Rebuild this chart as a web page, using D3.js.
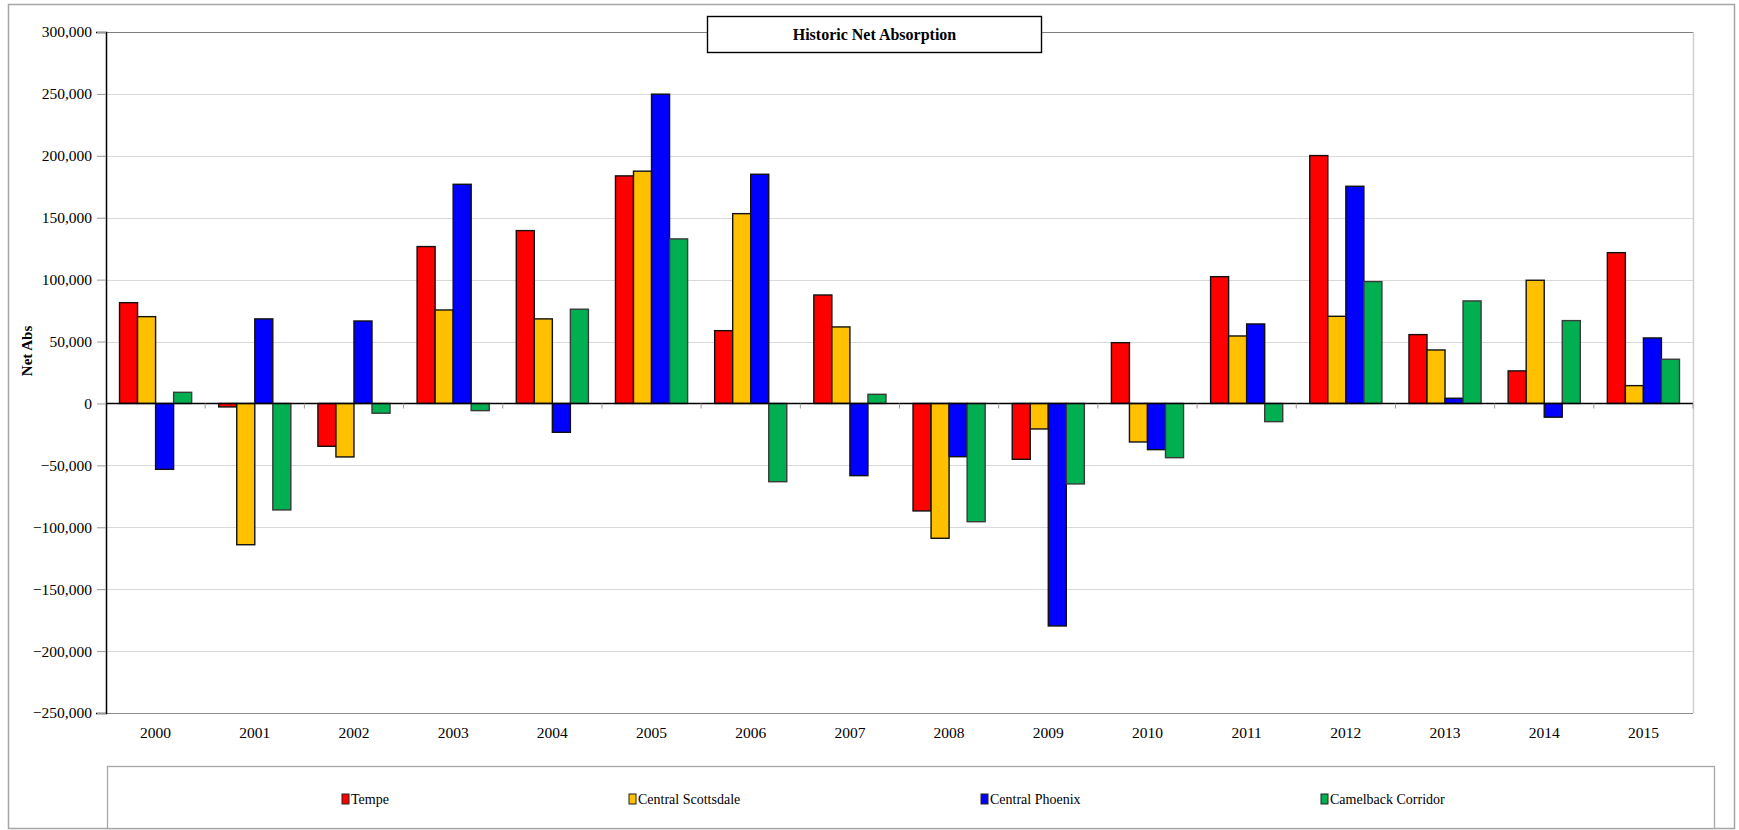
<!DOCTYPE html>
<html>
<head>
<meta charset="utf-8">
<script src="https://cdn.jsdelivr.net/npm/d3@7/dist/d3.min.js"></script>
<style>
  html, body { margin: 0; padding: 0; background: #fff; }
  svg text { font-family: "Liberation Serif", "Times New Roman", serif; fill: #000; }
</style>
</head>
<body>
<svg id="chart" width="1739" height="830"></svg>
<script>
// Yearly net absorption by submarket
const years = ["2000","2001","2002","2003","2004","2005","2006","2007","2008","2009","2010","2011","2012","2013","2014","2015"];
const seriesNames = ["Tempe", "Central Scottsdale", "Central Phoenix", "Camelback Corridor"];
const seriesColors = ["#ff0000", "#ffc000", "#0000ff", "#00b050"];

const tempe            = [81400, -2800, -34600, 126700, 139600, 183800, 58800, 87600, -86800, -45100, 49100, 102400, 200200, 55600, 26300, 121800];
const centralScottsdale= [70100, -114100, -43200, 75500, 68300, 187600, 153300, 61800, -108900, -20600, -31100, 54500, 70400, 43200, 99500, 14400];
const centralPhoenix   = [-53200, 68300, 66600, 177000, -23300, 249800, 185100, -58300, -43000, -179700, -37300, 64200, 175400, 4200, -11100, 52900];
const camelback        = [9000, -86000, -7900, -5800, 76100, 132900, -63200, 7400, -95500, -65000, -43800, -14700, 98400, 82800, 66900, 35700];

const yTicks = [300000, 250000, 200000, 150000, 100000, 50000, 0, -50000, -100000, -150000, -200000, -250000];

const allSeries = [tempe, centralScottsdale, centralPhoenix, camelback];

const svg = d3.select("#chart");
const W = 1739, H = 830;
const plot = { left: 106, right: 1693, top: 32, bottom: 713 };

// outer frame
svg.append("rect")
  .attr("x", 8.5).attr("y", 4.5).attr("width", W - 13).attr("height", H - 6)
  .attr("fill", "#fff").attr("stroke", "#a6a6a6").attr("stroke-width", 1.5);

const x = d3.scaleBand().domain(years).range([plot.left, plot.right]).paddingInner(0).paddingOuter(0);
const y = d3.scaleLinear().domain([-250000, 300000]).range([plot.bottom, plot.top]);

// inner grouping: 4 bars with a 150% gap between groups
const barW = x.bandwidth() / (4 + 1.5);
const groupOffset = (x.bandwidth() - 4 * barW) / 2;
const xs = d3.scaleBand().domain(d3.range(4)).range([groupOffset, groupOffset + 4 * barW]).padding(0);

// gridlines
svg.append("g")
  .selectAll("line")
  .data(yTicks.filter(t => t !== 300000 && t !== -250000 && t !== 0))
  .join("line")
  .attr("x1", plot.left).attr("x2", plot.right)
  .attr("y1", d => Math.round(y(d)) + 0.5).attr("y2", d => Math.round(y(d)) + 0.5)
  .attr("stroke", "#d9d9d9").attr("stroke-width", 1.2);

// plot frame
svg.append("line").attr("x1", plot.left).attr("x2", plot.right)
  .attr("y1", plot.top + 0.5).attr("y2", plot.top + 0.5)
  .attr("stroke", "#7f7f7f").attr("stroke-width", 1.2);
svg.append("line").attr("x1", plot.left).attr("x2", plot.right)
  .attr("y1", plot.bottom + 0.5).attr("y2", plot.bottom + 0.5)
  .attr("stroke", "#8c8c8c").attr("stroke-width", 1.2);
svg.append("line").attr("x1", plot.right + 0.5).attr("x2", plot.right + 0.5)
  .attr("y1", plot.top).attr("y2", plot.bottom)
  .attr("stroke", "#cfcfcf").attr("stroke-width", 1.5);

// bars
const groups = svg.append("g").selectAll("g")
  .data(years)
  .join("g")
  .attr("transform", d => `translate(${x(d)},0)`);

groups.selectAll("rect")
  .data((d, i) => allSeries.map((s, k) => ({ k, v: s[i] })))
  .join("rect")
  .attr("x", d => xs(d.k))
  .attr("width", xs.bandwidth())
  .attr("y", d => y(Math.max(0, d.v)))
  .attr("height", d => Math.abs(y(d.v) - y(0)))
  .attr("fill", d => seriesColors[d.k])
  .attr("stroke", d => d.k === 3 ? "#3a3a3a" : "#111")
  .attr("stroke-width", 1.4);

// y axis
const yAxis = d3.axisLeft(y)
  .tickValues(yTicks)
  .tickSize(10)
  .tickPadding(4)
  .tickFormat(d3.format(","));
const gy = svg.append("g").attr("transform", `translate(${plot.left},0)`).call(yAxis);
gy.select(".domain").attr("stroke", "#000").attr("stroke-width", 1.5);
gy.selectAll(".tick line").attr("stroke", "#999").attr("x2", -9);
gy.selectAll(".tick text")
  .style("font-family", "'Liberation Serif', 'Times New Roman', serif")
  .style("font-size", "15.5px")
  .attr("fill", "#000");

// x axis at zero
const x0 = Math.round(y(0)) + 0.5;
const gx = svg.append("g").attr("transform", `translate(0,${x0})`);
gx.append("line").attr("x1", plot.left).attr("x2", plot.right)
  .attr("stroke", "#000").attr("stroke-width", 1.5);
gx.selectAll("line.tk")
  .data(years.slice(1).concat(["end"]))
  .join("line")
  .attr("class", "tk")
  .attr("x1", (d, i) => i < years.length - 1 ? x(d) : plot.right)
  .attr("x2", (d, i) => i < years.length - 1 ? x(d) : plot.right)
  .attr("y1", 0).attr("y2", 5)
  .attr("stroke", "#999").attr("stroke-width", 1);

// category labels below the plot
svg.append("g").selectAll("text")
  .data(years)
  .join("text")
  .attr("x", d => x(d) + x.bandwidth() / 2)
  .attr("y", 738)
  .attr("text-anchor", "middle")
  .style("font-size", "15.5px")
  .text(d => d);

// y axis title
svg.append("text")
  .attr("transform", "translate(32,351) rotate(-90)")
  .attr("text-anchor", "middle")
  .style("font-size", "15px")
  .style("font-weight", "bold")
  .text("Net Abs");

// chart title box
const tb = svg.append("g");
tb.append("rect")
  .attr("x", 707.5).attr("y", 16.5).attr("width", 334).attr("height", 36)
  .attr("fill", "#fff").attr("stroke", "#000").attr("stroke-width", 1.4);
tb.append("text")
  .attr("x", 874.5).attr("y", 40)
  .attr("text-anchor", "middle")
  .style("font-size", "16px")
  .style("font-weight", "bold")
  .text("Historic Net Absorption");

// legend
svg.append("rect")
  .attr("x", 107.5).attr("y", 766.5).attr("width", 1607).attr("height", 62)
  .attr("fill", "#fff").attr("stroke", "#a6a6a6").attr("stroke-width", 1.3);

const legendX = [342, 629, 981, 1321];
const lg = svg.append("g").selectAll("g")
  .data(seriesNames)
  .join("g")
  .attr("transform", (d, i) => `translate(${legendX[i]},799)`);
lg.append("rect")
  .attr("x", 0).attr("y", -5).attr("width", 7).attr("height", 10)
  .attr("fill", (d, i) => seriesColors[i])
  .attr("stroke", "#222").attr("stroke-width", 1);
lg.append("text")
  .attr("x", 9).attr("y", 5)
  .style("font-size", "14px")
  .text(d => d);
</script>
</body>
</html>
